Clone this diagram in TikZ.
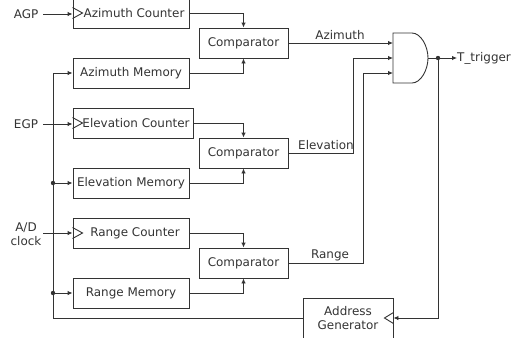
\documentclass[tikz,border=0pt]{standalone}
\usepackage{fontspec}
\setmainfont{DejaVu Sans}
\usetikzlibrary{arrows.meta}
\definecolor{ln}{HTML}{333333}
\definecolor{tx}{HTML}{333333}
\begin{document}
\begin{tikzpicture}[x=1bp,y=-1bp,
  every node/.style={font=\fontsize{12}{15}\selectfont, text=tx},
  blk/.style={draw=ln, line width=0.9bp, rectangle, inner sep=0pt, minimum width=116bp, minimum height=30bp},
  cmp/.style={blk, minimum width=89bp},
  wire/.style={draw=ln, line width=0.9bp},
  arr/.style={wire, -{Latex[length=5bp,width=4.5bp]}},
  lbl/.style={inner sep=1bp}
]
\useasboundingbox (0,0) rectangle (520,337);

% counters and memories
\node[blk] (ac) at (131,13) {\hspace{6bp}Azimuth Counter};
\node[blk] (am) at (131,73) {Azimuth Memory};
\node[blk, minimum width=120bp] (ec) at (133,123) {\hspace{6bp}Elevation Counter};
\node[blk] (em) at (131,183) {Elevation Memory};
\node[blk] (rc) at (131,233) {\hspace{8bp}Range Counter};
\node[blk] (rm) at (131,293) {Range Memory};

% clock triangles
\foreach \n in {ac,ec,rc}{
  \draw[wire] ([yshift=5.5bp]\n.west) -- ([xshift=10bp]\n.west) -- ([yshift=-5.5bp]\n.west);
}

% comparators
\node[cmp] (c1) at (243.5,43) {Comparator};
\node[cmp] (c2) at (243.5,153) {Comparator};
\node[cmp] (c3) at (243.5,263) {Comparator};

% address generator
\node[blk, minimum width=90bp, minimum height=40bp, align=center] (ag) at (348,318) {Address\\[-1bp]Generator};
\draw[wire] ([yshift=5.5bp]ag.east) -- ([xshift=-9bp]ag.east) -- ([yshift=-5.5bp]ag.east);

% inputs
\node[lbl] (agp) at (26,14) {AGP};
\node[lbl] (egp) at (26,124) {EGP};
\node[lbl, align=center] (adc) at (26,234) {A/D\\[-1bp]clock};
\draw[arr] (43,14) coordinate (agpo) -- (agpo -| ac.west);
\draw[arr] (43,124) coordinate (egpo) -- (egpo -| ec.west);
\draw[arr] (43,233) coordinate (adco) -- (adco -| rc.west);

% left bus
\coordinate (bt) at (53,73);
\coordinate (b2) at (53,183);
\coordinate (b3) at (53,293);
\draw[arr] (ag.west) -| (bt) -- (am.west);
\draw[arr] (b2) -- (em.west);
\draw[arr] (b3) -- (rm.west);
\fill[ln] (b2) circle (2.2bp);
\fill[ln] (b3) circle (2.2bp);

% counter/memory to comparator
\draw[arr] (ac.east) -| (c1.north);
\draw[arr] (am.east) -| (c1.south);
\draw[arr] (ec.east) -| (c2.north);
\draw[arr] (em.east) -| (c2.south);
\draw[arr] (rc.east) -| (c3.north);
\draw[arr] (rm.east) -| (c3.south);

% AND gate
\draw[wire] (393,33) -- (412,33) .. controls (420.8,33) and (428,46.2) .. (428,58)
  .. controls (428,69.8) and (420.8,83) .. (412,83) -- (393,83) -- cycle;
\coordinate (g1) at (393,43);
\coordinate (g2) at (393,58);
\coordinate (g3) at (393,73);
\coordinate (gout) at (428,58);
\coordinate (dot) at (438,58);

\draw[arr] (c1.east) -- (g1);
\draw[arr] (c2.east) -- ++(65,0) |- (g2);
\draw[arr] (c3.east) -- ++(75,0) |- (g3);

\node[lbl] at (340,35) {Azimuth};
\node[lbl] at (326,145) {Elevation};
\node[lbl] at (330,255) {Range};

% output
\node[lbl, anchor=west, inner sep=0pt] (tt) at (457,58) {T\_trigger};
\draw[arr] (gout) -- (tt.west);
\fill[ln] (dot) circle (2.2bp);
\draw[arr] (dot) |- (ag.east);
\end{tikzpicture}
\end{document}
